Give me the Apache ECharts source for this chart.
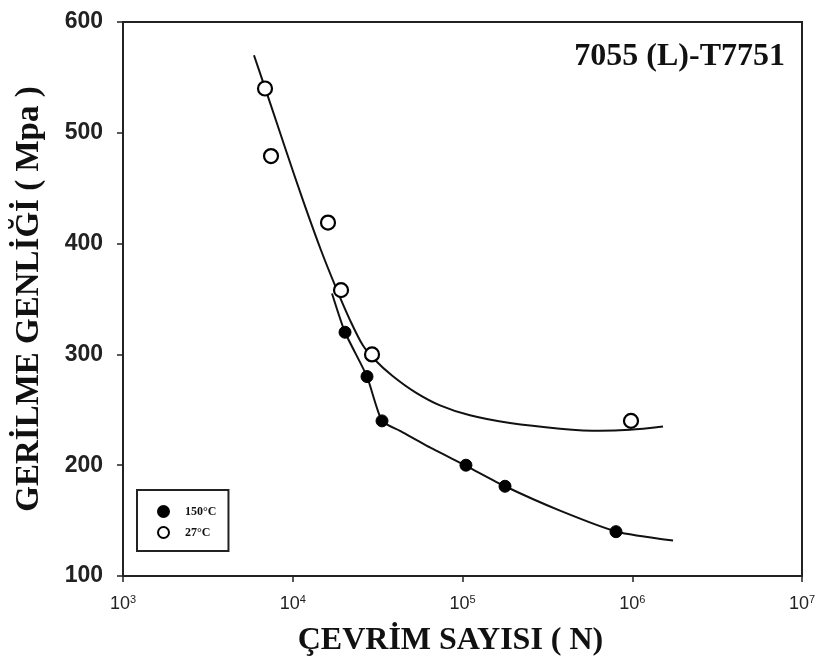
<!DOCTYPE html>
<html><head><meta charset="utf-8">
<script src="https://cdn.jsdelivr.net/npm/echarts@6/dist/echarts.min.js"></script>
<style>html,body{margin:0;padding:0;background:#fff}#c{width:822px;height:671px}</style>
</head><body><div id="c"></div>
<script>
// Measured points: [cycles N, stress MPa]
const pts27 = [[6864,540],[7446,479],[16130,419],[19250,358],[29310,300],[983000,240]];
const pts150 = [[20320,320],[27380,280],[33560,240],[104800,200],[178000,181],[802000,140]];
// Fitted curves
const curve27 = [[5910,570],[7245,530],[9125,484],[11490,439],[14670,394],[18220,358],[21740,331],[25930,308],[30520,295],[38430,281],[52520,266],[73710,254],[110700,245],[190500,238],[375300,233],[645700,231],[969800,232],[1518000,235]];
const curve150 = [[17030,355],[20320,320],[27380,280],[33560,240],[42830,231],[64330,216],[106300,199],[178000,181],[375300,159],[813300,140],[1739000,132]];
const yTicks = [100,200,300,400,500,600];
const titleText = '7055 (L)-T7751';
const xName = 'ÇEVRİM SAYISI ( N)';
const yName = 'GERİLME GENLİĞİ ( Mpa )';

const chart = echarts.init(document.getElementById('c'));
chart.setOption({
  animation:false,
  backgroundColor:'#fff',
  title:{text:titleText,right:32,top:36,textStyle:{fontFamily:'Liberation Serif',fontWeight:'bold',fontSize:32,color:'#111'}},
  grid:{left:123,right:20,top:22,bottom:95,show:true,borderColor:'#222',borderWidth:2},
  legend:{
    data:['150°C','27°C'],orient:'vertical',left:137,top:490,
    padding:[15,12,12,20],itemGap:8,itemWidth:11,itemHeight:11,
    borderColor:'#222',borderWidth:2,
    textStyle:{fontFamily:'Liberation Serif',fontWeight:'bold',fontSize:12,color:'#111',padding:[0,0,0,11]}
  },
  xAxis:{type:'log',logBase:10,min:1000,max:10000000,
    name:xName,nameLocation:'middle',nameGap:49,
    nameTextStyle:{fontFamily:'Liberation Serif',fontWeight:'bold',fontSize:32,color:'#111',padding:[0,24,0,0]},
    axisLine:{lineStyle:{color:'#222',width:2}},
    axisTick:{show:true,length:6,lineStyle:{color:'#222',width:1.5}},
    minorTick:{show:false},splitLine:{show:false},
    axisLabel:{margin:18,color:'#222',fontFamily:'Liberation Sans',fontSize:18,
      formatter:function(v){return '10{s|'+Math.round(Math.log10(v))+'}';},
      rich:{s:{fontSize:11,verticalAlign:'top',padding:[0,0,9,0],fontFamily:'Liberation Sans',color:'#222'}}}
  },
  yAxis:{type:'value',min:yTicks[0],max:yTicks[yTicks.length-1],interval:100,
    name:yName,nameLocation:'middle',nameGap:77,nameRotate:90,
    nameTextStyle:{fontFamily:'Liberation Serif',fontWeight:'bold',fontSize:33,color:'#111'},
    axisLine:{show:true,lineStyle:{color:'#222',width:2}},
    axisTick:{show:true,length:6,lineStyle:{color:'#222',width:1.5}},
    splitLine:{show:false},
    axisLabel:{margin:20,color:'#222',fontFamily:'Liberation Sans',fontWeight:'bold',fontSize:23}
  },
  series:[
    {name:'c27',type:'line',data:curve27,smooth:0.3,showSymbol:false,lineStyle:{color:'#111',width:2},z:2},
    {name:'c150',type:'line',data:curve150,smooth:0.2,showSymbol:false,lineStyle:{color:'#111',width:2},z:2},
    {name:'150°C',type:'scatter',data:pts150,symbol:'circle',symbolSize:12,itemStyle:{color:'#000',borderColor:'#000',borderWidth:1,opacity:1},z:5},
    {name:'27°C',type:'scatter',data:pts27,symbol:'circle',symbolSize:14,itemStyle:{color:'#fff',borderColor:'#000',borderWidth:2.2,opacity:1},z:5}
  ]
});
</script></body></html>
